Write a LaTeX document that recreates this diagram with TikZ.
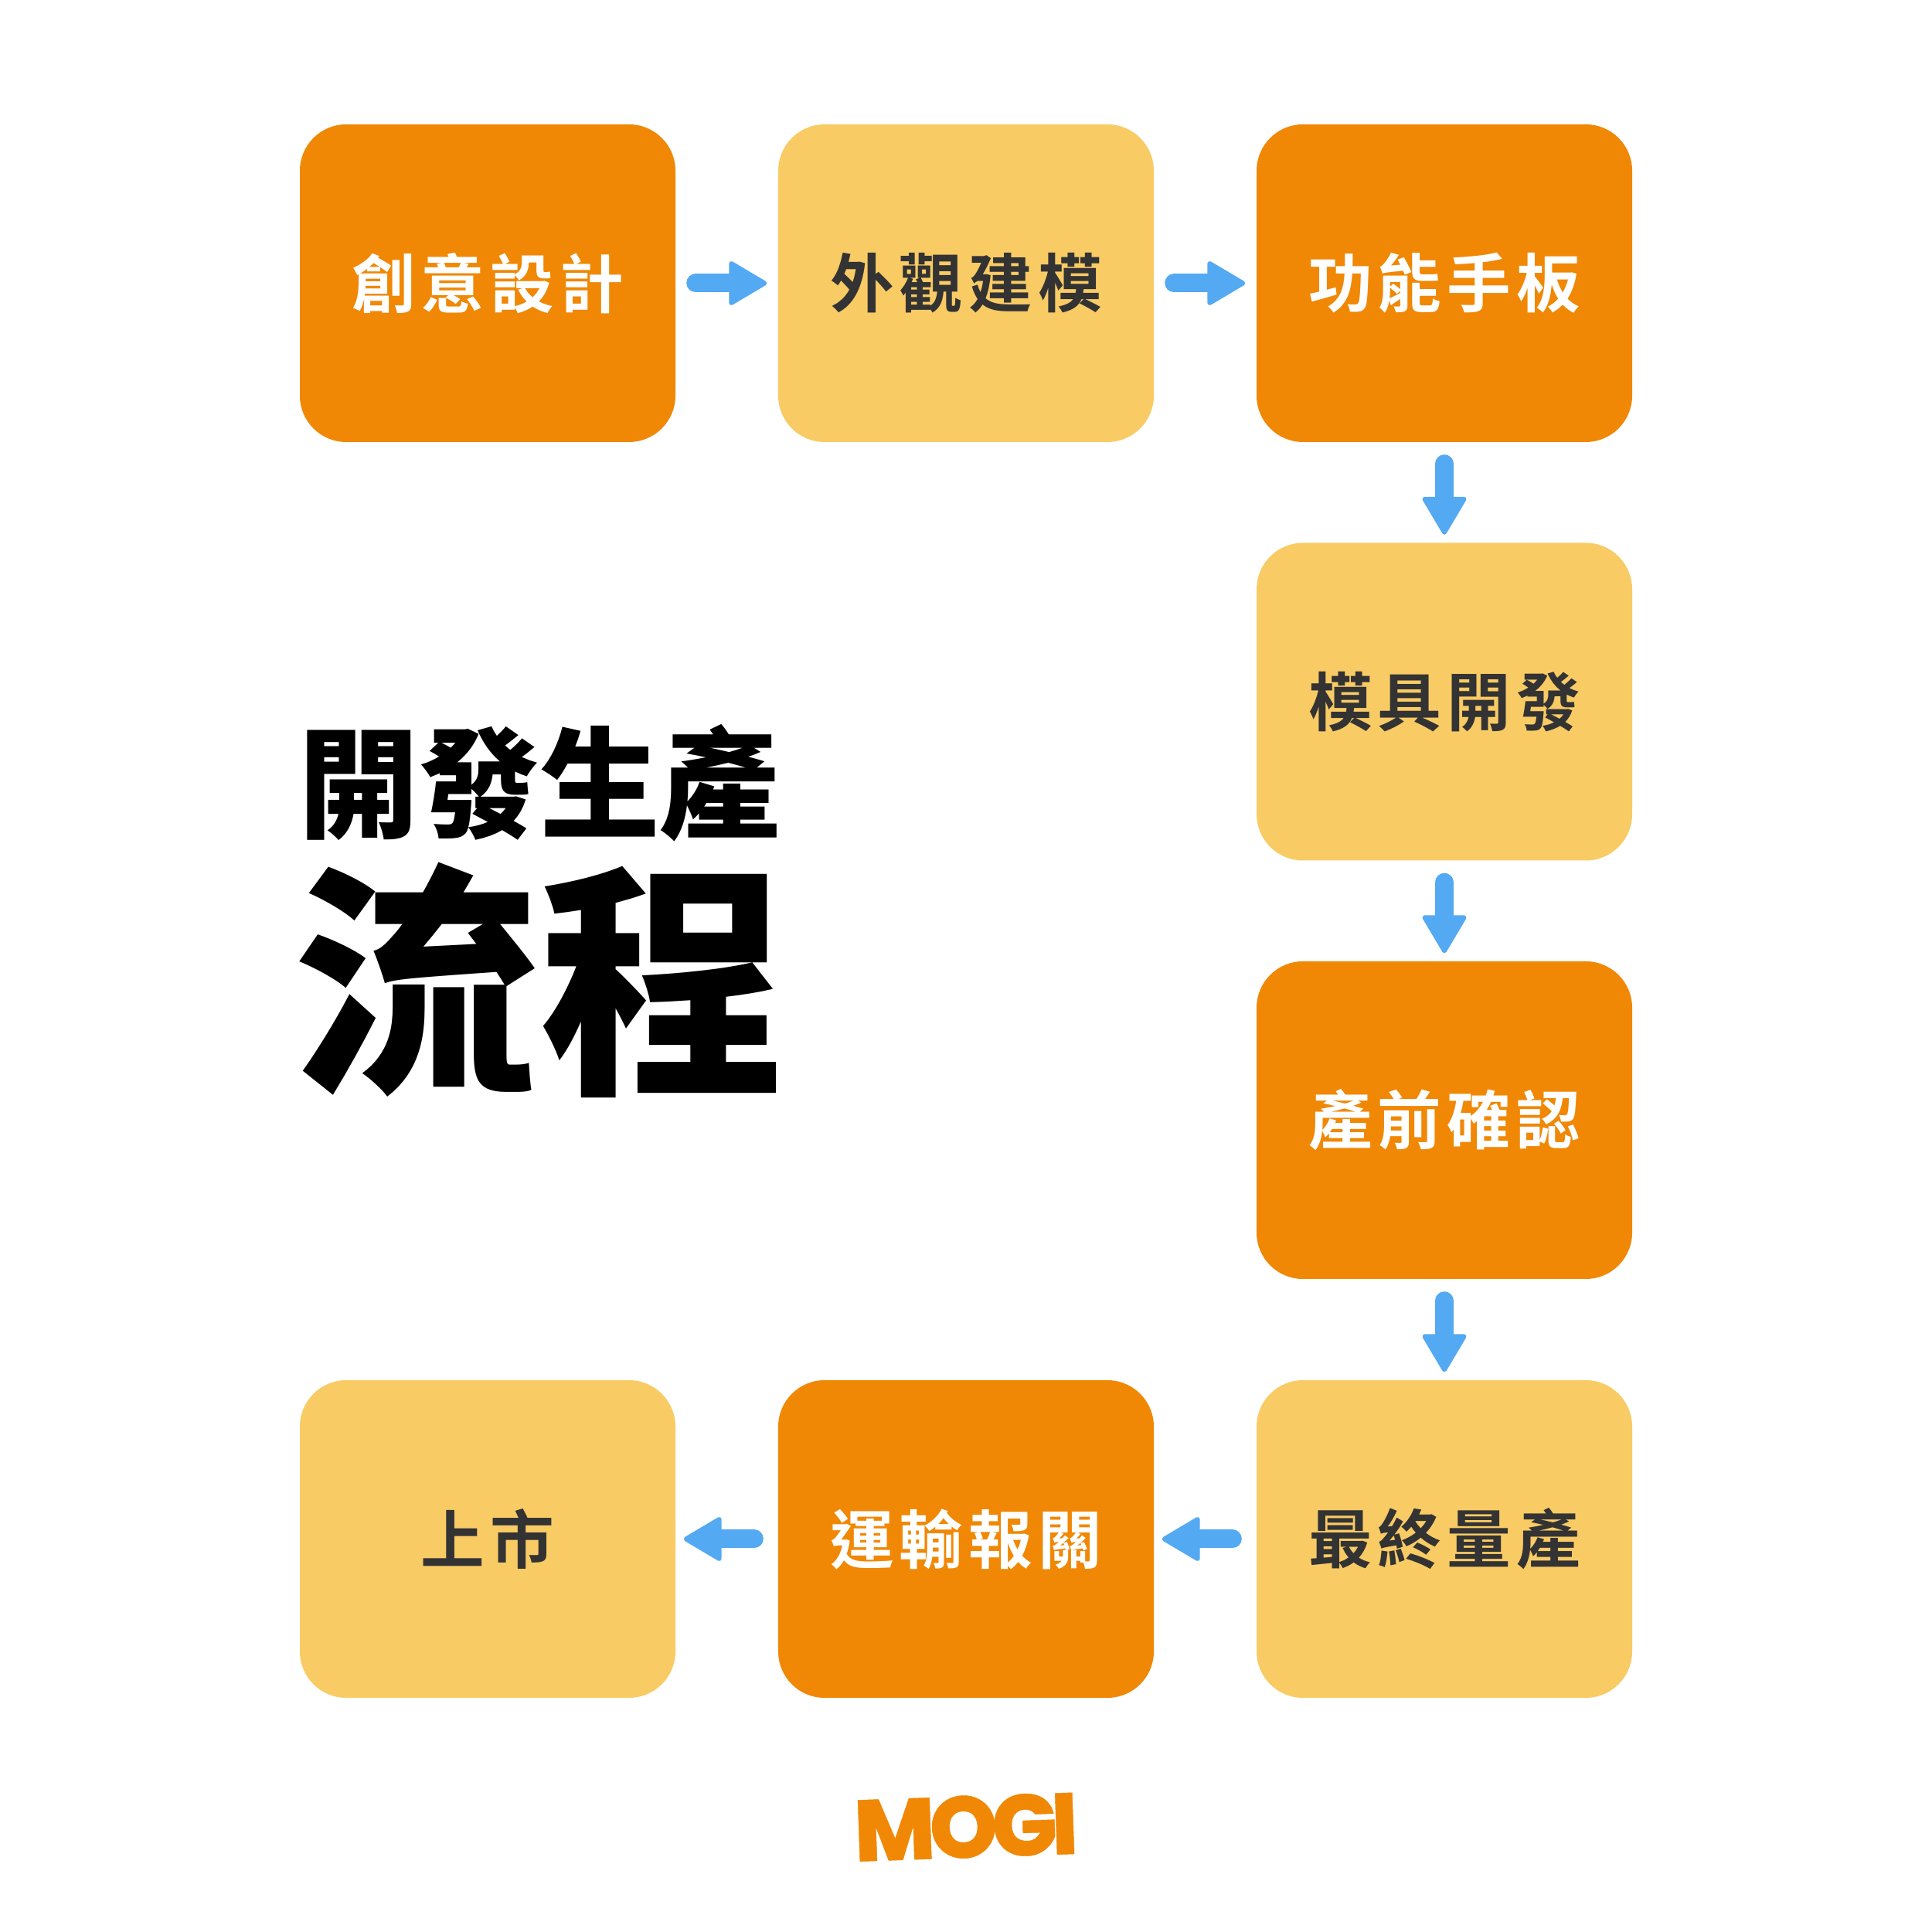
\documentclass[tikz,border=0pt]{standalone}
\usepackage{fontspec}
\usepackage{tikz}
\usetikzlibrary{arrows.meta}
\newfontfamily\labelfont[LetterSpace=8.5]{Noto Sans CJK TC Bold}
\newfontfamily\titlefont{Noto Sans CJK TC Black}
\newfontfamily\logofont[LetterSpace=-7,FakeBold=0.4]{Poppins ExtraBold}
\definecolor{boxorange}{RGB}{240,136,5}
\definecolor{boxyellow}{RGB}{249,203,101}
\definecolor{flowblue}{RGB}{84,169,243}
\definecolor{labeldark}{RGB}{51,51,51}
\tikzset{
	stagebox/.style={rounded corners=0.6cm, minimum width=4.86cm, minimum height=4.11cm,
		inner sep=0pt, font=\labelfont\fontsize{23.5pt}{25pt}\selectfont},
	darkbox/.style={stagebox, fill=boxorange, text=white},
	lightbox/.style={stagebox, fill=boxyellow, text=labeldark},
	flow/.style={draw=flowblue, line width=0.24cm, line cap=round,
		-{Triangle[length=0.52cm, width=0.6cm, line width=0.06cm, round]},
		shorten <=0.255cm, shorten >=0.14cm},
	flowdown/.style={flow, shorten <=0.275cm, shorten >=0.10cm},
	flowback/.style={flow, shorten <=0.305cm, shorten >=0.10cm},
}
\begin{document}
\begin{tikzpicture}
	\useasboundingbox (0,0) rectangle (25,25);
	% top row
	\node[darkbox] (design) at (6.31,21.335) {創意設計};
	\node[lightbox] (model) at (12.5,21.335) {外觀建模};
	\node[darkbox] (proto) at (18.69,21.335) {功能手板};
	% right column
	\node[lightbox] (mold) at (18.69,15.92) {模具開發};
	\node[darkbox] (check) at (18.69,10.505) {產前確認};
	\node[lightbox] (mass) at (18.69,5.085) {最終量產};
	% bottom row
	\node[darkbox] (ship) at (12.5,5.085) {運輸報關};
	\node[lightbox] (market) at (6.31,5.085) {上市};
	\draw[flow] (design)--(model);
	\draw[flow] (model)--(proto);
	\draw[flowdown] (proto)--(mold);
	\draw[flowdown] (mold)--(check);
	\draw[flowdown] (check)--(mass);
	\draw[flowback] (mass)--(ship);
	\draw[flowback] (ship)--(market);
	% title
	\node[anchor=center, inner sep=0pt, font=\titlefont\fontsize{44.3pt}{46pt}\selectfont] (title) at (6.98,14.87) {開發生產};
	\node[anchor=center, inner sep=0pt, font=\titlefont\fontsize{90.5pt}{92pt}\selectfont] (flowname) at (6.98,12.32) {流程};
	% logo
	\node[inner sep=0pt, text=boxorange, rotate=2, font=\logofont\fontsize{32pt}{34pt}\selectfont] (logo) at (12.5,1.36) {MOGI};
\end{tikzpicture}
\end{document}
